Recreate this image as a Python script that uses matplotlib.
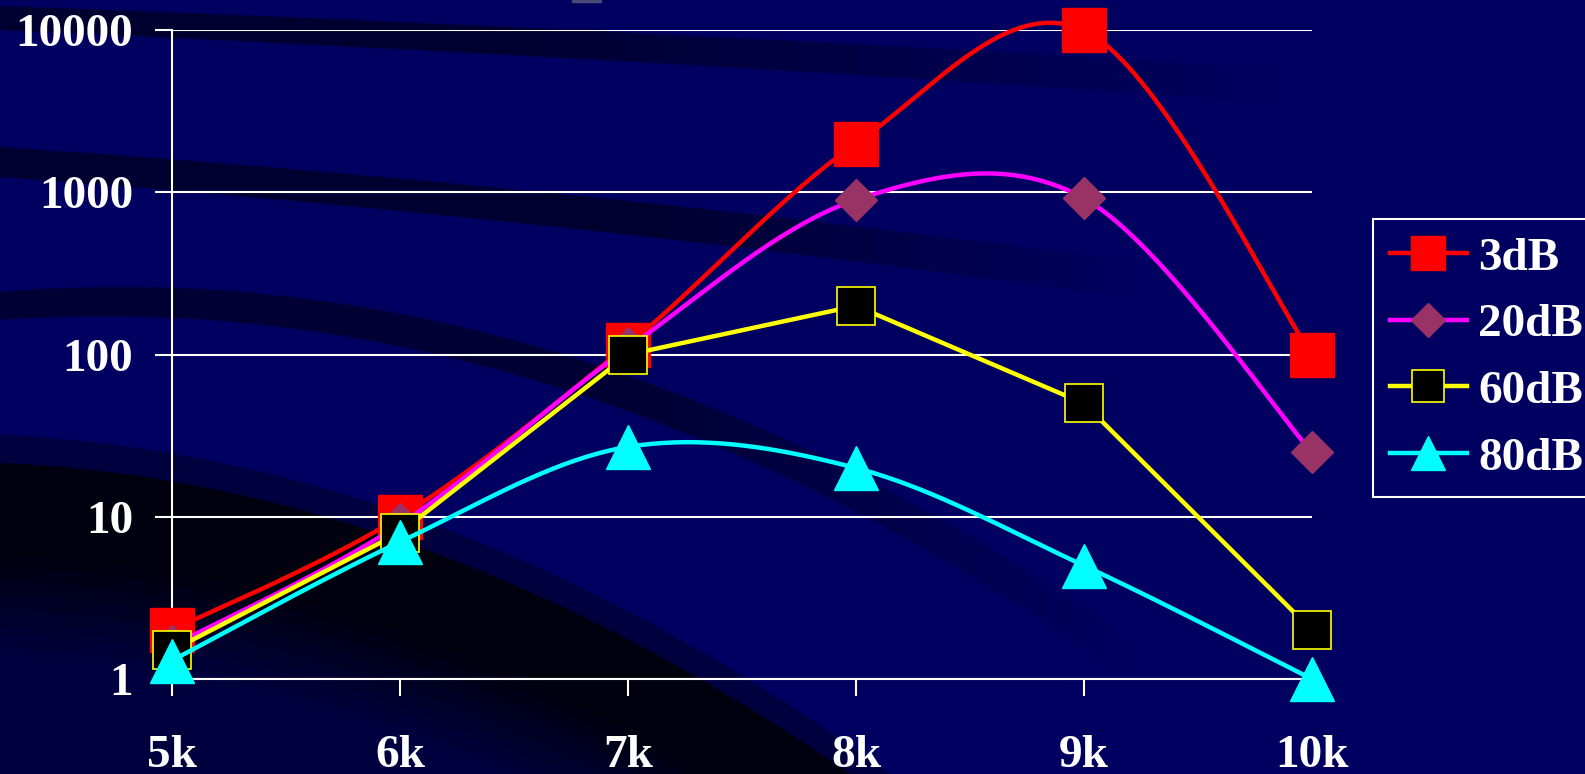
import numpy as np
import matplotlib.pyplot as plt
from matplotlib.lines import Line2D
from matplotlib.patches import Rectangle
from matplotlib.ticker import FixedLocator, FixedFormatter, NullLocator

# frequency in kHz and the value for each attenuation level
freq_khz = [5, 6, 7, 8, 9, 10]
freq_labels = ["5k", "6k", "7k", "8k", "9k", "10k"]
y_ticks = [1, 10, 100, 1000, 10000]
y_labels = ["1", "10", "100", "1000", "10000"]

db3 = [2.0, 10, 115, 2000, 10000, 100]
db20 = [1.6, 9, 110, 900, 920, 25]
db60 = [1.5, 8, 100, 200, 50, 2]
db80 = [1.3, 7, 27, 20, 5, 1]

W, H = 1585, 774
BG = np.array([0.0, 0.0, 0.38])
BG_T = tuple(BG)
FONT = dict(family="Liberation Serif", weight="bold", size=34)


def smooth(x, y, n=40):
    """Catmull-Rom style bezier through the points, done in log space."""
    x = np.asarray(x, float)
    ly = np.log10(np.asarray(y, float))
    px, py = [], []
    k = len(x)
    for i in range(k - 1):
        i0, i3 = max(i - 1, 0), min(i + 2, k - 1)
        p0 = np.array([x[i], ly[i]])
        p3 = np.array([x[i + 1], ly[i + 1]])
        c1 = p0 + (np.array([x[i + 1], ly[i + 1]]) - np.array([x[i0], ly[i0]])) / 6
        c2 = p3 - (np.array([x[i3], ly[i3]]) - np.array([x[i], ly[i]])) / 6
        t = np.linspace(0, 1, n)[:, None]
        pts = ((1 - t) ** 3 * p0 + 3 * (1 - t) ** 2 * t * c1
               + 3 * (1 - t) * t ** 2 * c2 + t ** 3 * p3)
        px.extend(pts[:, 0])
        py.extend(pts[:, 1])
    return np.array(px), 10 ** np.array(py)


def band(xx, yy, top, bottom, strength, fade_start=None, fade_end=None, soft=1.5):
    """Darkening between two curves, optionally fading out to the right."""
    a = np.clip((yy - top) / 1.5 + 0.5, 0, 1) * np.clip((bottom - yy) / soft + 0.5, 0, 1)
    a = a * strength
    if fade_start is not None:
        a = a * np.clip((fade_end - xx) / (fade_end - fade_start), 0, 1)
    return a


fig = plt.figure(figsize=(W / 100, H / 100), dpi=100)
fig.patch.set_facecolor(BG_T)

# backdrop with the dark curved swooshes
bg = fig.add_axes([0, 0, 1, 1], zorder=-5)
xx, yy = np.meshgrid(np.arange(W) + 0.5, np.arange(H) + 0.5)
dark = np.zeros_like(xx)
ca = 18 + 0.04 * xx + 0.00001 * xx ** 2
dark += band(xx, yy, ca - 12 - 0.004 * xx, ca + 12 + 0.004 * xx, 0.5, 500, 1300)
cb = 162 + 0.07 * xx + 0.00003 * xx ** 2
dark += band(xx, yy, cb - 15 - 0.003 * xx, cb + 15 + 0.003 * xx, 0.5, 650, 1150)
cc = 306 - 0.078 * xx + 0.000346 * xx ** 2
dark += band(xx, yy, cc - 14 - 0.006 * xx, cc + 14 + 0.006 * xx, 0.45, 650, 1150)
upper = 435 + 0.041 * xx + 0.000382 * xx ** 2
dark += band(xx, yy, upper, H + 10, 0.35)
dark += band(xx, yy, upper + 28, upper + 170, 0.5, soft=110)
dark = np.clip(dark, 0, 0.92)
img = BG[None, None, :] * (1 - dark[..., None])
bg.imshow(img, extent=[0, W, H, 0], aspect="auto", interpolation="bilinear")
bg.add_patch(Rectangle((572, 0), 29, 2, color="#4a4a78"))
bg.set_xlim(0, W)
bg.set_ylim(H, 0)
bg.axis("off")

ax = fig.add_axes([172 / W, 95 / H, 1140 / W, 648.7 / H])
ax.set_facecolor("none")
ax.set_yscale("log")
ax.set_xlim(5, 10)
ax.set_ylim(1, 10000)

series = [
    ("3dB", db3, "#ff0000", dict(marker="s", ms=31, mfc="#ff0000", mec="#ff0000", mew=1), True),
    ("20dB", db20, "#ff00ff", dict(marker="D", ms=21.5, mfc="#993366", mec="#993366", mew=1), True),
    ("60dB", db60, "#ffff00", dict(marker="s", ms=28, mfc="#000000", mec="#ffff00", mew=1.2), False),
    ("80dB", db80, "#00ffff", dict(marker="^", ms=31, mfc="#00ffff", mec="#00ffff", mew=1), True),
]

handles = []
for i, (name, vals, color, mk, curved) in enumerate(series):
    if curved:
        lx, ly = smooth(freq_khz, vals)
    else:
        lx, ly = freq_khz, vals
    ax.plot(lx, ly, color=color, lw=3.2, zorder=3 + 2 * i, clip_on=False,
            solid_capstyle="round")
    ax.plot(freq_khz, vals, ls="none", zorder=4 + 2 * i, clip_on=False, **mk)
    handles.append(Line2D([], [], color=color, lw=3.2, **mk))

ax.yaxis.set_major_locator(FixedLocator(y_ticks))
ax.yaxis.set_major_formatter(FixedFormatter(y_labels))
ax.yaxis.set_minor_locator(NullLocator())
ax.set_xticks(freq_khz)
ax.set_xticklabels(freq_labels)
ax.grid(axis="y", color="white", lw=1.5)
ax.set_axisbelow(True)

for side in ["top", "right"]:
    ax.spines[side].set_visible(False)
for side in ["left", "bottom"]:
    ax.spines[side].set_color("white")
    ax.spines[side].set_linewidth(1.5)

ax.tick_params(axis="y", colors="white", length=12, width=1.5, pad=16)
ax.tick_params(axis="x", colors="white", length=12, width=1.5, pad=28)
for lab in ax.get_xticklabels() + ax.get_yticklabels():
    lab.set_fontfamily(FONT["family"])
    lab.set_fontweight(FONT["weight"])
    lab.set_fontsize(FONT["size"])

leg = fig.legend(
    handles, [s[0] for s in series],
    loc="upper left", bbox_to_anchor=(1373 / W, 1 - 219 / H),
    bbox_transform=fig.transFigure, borderaxespad=0,
    prop=FONT, labelcolor="white", markerscale=0.8,
    handlelength=1.61, handletextpad=0.25, labelspacing=0.5, borderpad=0.37,
    fancybox=False, framealpha=1, facecolor=BG_T, edgecolor="white",
)
leg.get_frame().set_linewidth(1.5)

fig.savefig("out.png", dpi=100, facecolor=BG_T)
